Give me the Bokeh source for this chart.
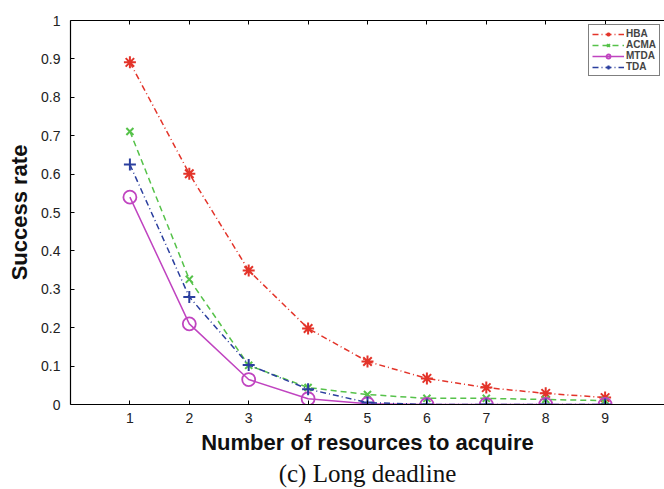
from bokeh.plotting import figure
from bokeh.models import (Range1d, FixedTicker, CustomJSTickFormatter, LinearAxis,
                          Title, Legend, LegendItem)
from bokeh.embed import file_html
from bokeh.resources import INLINE

resources = [1, 2, 3, 4, 5, 6, 7, 8, 9]
hba = [0.891, 0.601, 0.349, 0.198, 0.112, 0.068, 0.044, 0.029, 0.018]
acma = [0.711, 0.326, 0.102, 0.044, 0.026, 0.016, 0.016, 0.013, 0.010]
mtda = [0.540, 0.210, 0.065, 0.015, 0.002, 0.0, 0.0, 0.0, 0.0]
tda = [0.625, 0.280, 0.103, 0.040, 0.005, 0.0, 0.0, 0.0, 0.0]
x_ticks = [1, 2, 3, 4, 5, 6, 7, 8, 9]
y_ticks = [0, 0.1, 0.2, 0.3, 0.4, 0.5, 0.6, 0.7, 0.8, 0.9, 1.0]

RED = "#e3342a"
GREEN = "#56c24a"
MAG = "#c044c0"
BLUE = "#2b3f9e"

p = figure(width=664, height=489, output_backend="svg", toolbar_location=None,
           x_range=Range1d(0, 10), y_range=Range1d(0, 1),
           min_border_left=70, min_border_right=0, min_border_top=20, min_border_bottom=85)
p.outline_line_color = None
p.xgrid.visible = False
p.ygrid.visible = False
p.background_fill_color = "white"

fmt = CustomJSTickFormatter(code="return String(Math.round(tick*10)/10);")

for ax in [p.xaxis[0], p.yaxis[0]]:
    ax.axis_line_color = "black"
    ax.axis_line_width = 1.2
    ax.major_tick_in = 4
    ax.major_tick_out = 0
    ax.minor_tick_line_color = None
    ax.major_label_text_font = "Liberation Sans"
    ax.major_label_text_font_size = "14px"
    ax.major_label_text_color = "#222222"
    ax.axis_label_text_font = "Liberation Sans"
    ax.axis_label_text_font_style = "bold"
    ax.axis_label_text_font_size = "22px"
    ax.axis_label_text_color = "#111111"

p.xaxis[0].ticker = FixedTicker(ticks=x_ticks)
p.xaxis[0].axis_label = "Number of resources to acquire"
p.xaxis[0].major_label_standoff = 8
p.xaxis[0].axis_label_standoff = 4
p.yaxis[0].ticker = FixedTicker(ticks=y_ticks)
p.yaxis[0].formatter = fmt
p.yaxis[0].axis_label = "Success rate"
p.yaxis[0].major_label_standoff = 10
p.yaxis[0].axis_label_standoff = 6

top = LinearAxis(ticker=FixedTicker(ticks=x_ticks), major_label_text_font_size="0px",
                 major_tick_in=4, major_tick_out=0, minor_tick_line_color=None,
                 axis_line_color="black", axis_line_width=1.2, major_label_standoff=0)
p.add_layout(top, "above")

r_hba_l = p.line(resources, hba, line_color=RED, line_width=1.5, line_dash="6 3 1 3")
r_hba_m = p.scatter(resources, hba, marker="asterisk", size=12, line_color=RED, line_width=2)
r_acma_l = p.line(resources, acma, line_color=GREEN, line_width=1.5, line_dash="6 4")
r_acma_m = p.scatter(resources, acma, marker="x", size=10, line_color=GREEN, line_width=2)
r_mtda_l = p.line(resources, mtda, line_color=MAG, line_width=1.5)
r_mtda_m = p.scatter(resources, mtda, marker="circle", size=13, line_color=MAG,
                     fill_color=None, line_width=1.8)
r_tda_l = p.line(resources, tda, line_color=BLUE, line_width=1.5, line_dash="6 3 1 3")
r_tda_m = p.scatter(resources, tda, marker="cross", size=12, line_color=BLUE, line_width=2)

legend = Legend(items=[
    LegendItem(label="HBA", renderers=[r_hba_l, r_hba_m]),
    LegendItem(label="ACMA", renderers=[r_acma_l, r_acma_m]),
    LegendItem(label="MTDA", renderers=[r_mtda_l, r_mtda_m]),
    LegendItem(label="TDA", renderers=[r_tda_l, r_tda_m]),
], location="top_right")
legend.label_text_font = "Liberation Sans"
legend.label_text_font_style = "bold"
legend.label_text_font_size = "10px"
legend.label_height = 10
legend.glyph_height = 10
legend.glyph_width = 32
legend.spacing = 0
legend.padding = 3
legend.margin = 4
legend.label_standoff = 2
legend.border_line_color = "black"
legend.border_line_width = 1
legend.background_fill_alpha = 1
p.add_layout(legend)

caption = Title(text="(c) Long deadline", align="center", text_font="Liberation Serif",
                text_font_size="25px", text_font_style="normal", text_color="#111111",
                standoff=0, offset=0)
p.add_layout(caption, "below")

open("out.html", "w").write(file_html(p, INLINE))
